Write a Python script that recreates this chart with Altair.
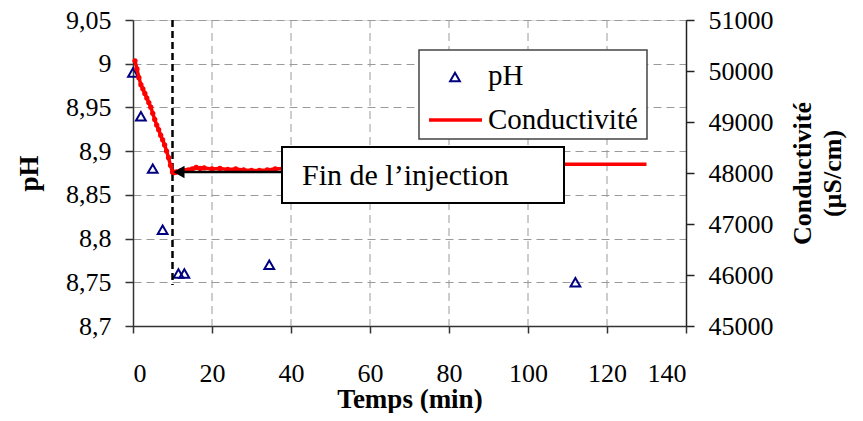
import altair as alt
import pandas as pd

# ---- data ----
ph_time = [0, 2, 5, 7.5, 11.5, 13, 34.5, 112]
ph_value = [8.99, 8.94, 8.88, 8.81, 8.76, 8.76, 8.77, 8.75]

cond_time = [0.5, 1, 1.5, 2, 2.5, 3, 3.5, 4, 4.5, 5, 5.5, 6, 6.5, 7, 7.5, 8, 8.5, 9, 9.5, 10,
             10.5, 11, 12, 13, 14, 15, 16, 17, 18, 20, 22, 24, 26, 28, 30, 32, 34, 36,
             40, 50, 60, 80, 100, 110, 120, 130]
cond_value = [50200, 50040, 49870, 49730, 49650, 49560, 49470, 49380, 49290, 49170, 49050, 48940,
              48850, 48740, 48650, 48550, 48430, 48300, 48150, 48020,
              48010, 48020, 48040, 48050, 48060, 48080, 48110, 48090, 48100, 48080, 48090, 48070,
              48080, 48060, 48050, 48050, 48060, 48080,
              48100, 48120, 48140, 48160, 48170, 48170, 48170, 48170]

x_ticks = [0, 10, 20, 30, 40, 50, 60, 70, 80, 90, 100, 110, 120, 130, 140]
x_grid = [20, 40, 60, 80, 100, 120]
ph_ticks = [8.7, 8.75, 8.8, 8.85, 8.9, 8.95, 9.0, 9.05]
cond_ticks = [45000, 46000, 47000, 48000, 49000, 50000, 51000]
injection_end = [10]
annotation_text = "Fin de l\u2019injection"
legend_labels = ["pH", "Conductivit\u00e9"]

FONT = "Liberation Serif"
NAVY = "#000080"
RED = "#ff0000"

ph_df = pd.DataFrame({"t": ph_time, "ph": ph_value})
cond_df = pd.DataFrame({"t": cond_time, "c": cond_value})
grid_df = pd.DataFrame({"t": x_grid})
inj_df = pd.DataFrame({"t": injection_end})
one = pd.DataFrame({"a": [0]})

xscale = alt.Scale(domain=[0, 140], nice=False, zero=False)
xaxis = alt.Axis(values=x_ticks, labelExpr="datum.value % 20 == 0 ? datum.label : ''",
                 title="Temps (min)", grid=False, tickSize=7, labelPadding=27,
                 labelFont=FONT, labelFontSize=26, labelColor="black",
                 titleFont=FONT, titleFontSize=27, titleFontWeight="bold", titleColor="black",
                 titlePadding=0, domainColor="#333", tickColor="#333",
                 domainWidth=1.5, tickWidth=1.5)

ph_scale = alt.Scale(domain=[8.7, 9.05], nice=False, zero=False)
ph_axis = alt.Axis(values=ph_ticks, orient="left", title="pH",
                   labelExpr="replace(format(datum.value, '~g'), '.', ',')",
                   grid=True, gridDash=[8, 5], gridColor="#9a9a9a", gridWidth=1,
                   tickSize=8, labelPadding=14, labelFont=FONT, labelFontSize=26, labelColor="black",
                   titleFont=FONT, titleFontSize=27, titleFontWeight="bold", titleColor="black",
                   titlePadding=22, domainColor="#333", tickColor="#333",
                   domainWidth=1.5, tickWidth=1.5)

cond_scale = alt.Scale(domain=[45000, 51000], nice=False, zero=False)
cond_axis = alt.Axis(values=cond_ticks, orient="right", format="d",
                     title=["Conductivit\u00e9", "(\u00b5S/cm)"], titleAngle=270,
                     grid=False, tickSize=8, labelPadding=14,
                     labelFont=FONT, labelFontSize=26, labelColor="black",
                     titleFont=FONT, titleFontSize=26, titleFontWeight="bold", titleColor="black",
                     titlePadding=12, titleLineHeight=30,
                     domainColor="#222", tickColor="#222", domainWidth=1.5, tickWidth=1.5)

# ---- layer A (pH scale) ----
vgrid = alt.Chart(grid_df).mark_rule(color="#9a9a9a", strokeDash=[8, 5], strokeWidth=1).encode(
    x=alt.X("t:Q", scale=xscale, axis=xaxis))

ph_pts = alt.Chart(ph_df).mark_point(shape="triangle-up", filled=False, color=NAVY,
                                     strokeWidth=2, size=95, opacity=1).encode(
    x=alt.X("t:Q", scale=xscale, axis=xaxis),
    y=alt.Y("ph:Q", scale=ph_scale, axis=ph_axis))

layer_a = alt.layer(vgrid, ph_pts)

# ---- layer B (conductivity scale + annotations) ----
inj_line = alt.Chart(inj_df).mark_rule(color="black", strokeDash=[7, 4], strokeWidth=2.5).encode(
    x=alt.X("t:Q", scale=xscale), y=alt.value(0), y2=alt.value(265))

cond_line = alt.Chart(cond_df).mark_line(color=RED, strokeWidth=3.5).encode(
    x=alt.X("t:Q", scale=xscale),
    y=alt.Y("c:Q", scale=cond_scale, axis=cond_axis))

cond_dots = alt.Chart(cond_df).transform_filter("datum.t <= 36").mark_circle(
    color=RED, size=28, opacity=1).encode(
    x=alt.X("t:Q", scale=xscale),
    y=alt.Y("c:Q", scale=cond_scale, axis=cond_axis))

arrow_line = alt.Chart(one).mark_rule(color="black", strokeWidth=2.5).encode(
    x=alt.value(50), x2=alt.value(149), y=alt.value(152))
arrow_head = alt.Chart(one).mark_point(shape="triangle-left", filled=True, color="black",
                                       size=160, opacity=1).encode(
    x=alt.value(46), y=alt.value(152))

box = alt.Chart(one).mark_rect(fill="white", stroke="black", strokeWidth=2).encode(
    x=alt.value(149), x2=alt.value(431), y=alt.value(127), y2=alt.value(183))
box_text = alt.Chart(one).mark_text(text=annotation_text, font=FONT, fontSize=30, align="left",
                                    baseline="alphabetic", color="black").encode(
    x=alt.value(169), y=alt.value(165))

leg_box = alt.Chart(one).mark_rect(fill="white", stroke="#444", strokeWidth=1.5).encode(
    x=alt.value(286), x2=alt.value(514), y=alt.value(30), y2=alt.value(119))
leg_tri = alt.Chart(one).mark_point(shape="triangle-up", filled=False, color=NAVY,
                                    strokeWidth=2, size=95, opacity=1).encode(
    x=alt.value(322), y=alt.value(57))
leg_line = alt.Chart(one).mark_rule(color=RED, strokeWidth=3.5).encode(
    x=alt.value(296), x2=alt.value(349), y=alt.value(100))
leg_t1 = alt.Chart(one).mark_text(text=legend_labels[0], font=FONT, fontSize=29, align="left",
                                  baseline="alphabetic", color="black").encode(
    x=alt.value(355), y=alt.value(65))
leg_t2 = alt.Chart(one).mark_text(text=legend_labels[1], font=FONT, fontSize=29, align="left",
                                  baseline="alphabetic", color="black").encode(
    x=alt.value(355), y=alt.value(109))

layer_b = alt.layer(inj_line, cond_line, cond_dots, arrow_line, arrow_head, box, box_text,
                    leg_box, leg_tri, leg_line, leg_t1, leg_t2)

chart = alt.layer(layer_a, layer_b).resolve_scale(y="independent").properties(
    width=553, height=306,
    autosize=alt.AutoSizeParams(type="none"),
    padding={"left": 125, "top": 12, "right": 169, "bottom": 87},
).configure_view(stroke=None).configure(background="white")

chart.save("out.html", embed_options={"renderer": "svg", "actions": False})
